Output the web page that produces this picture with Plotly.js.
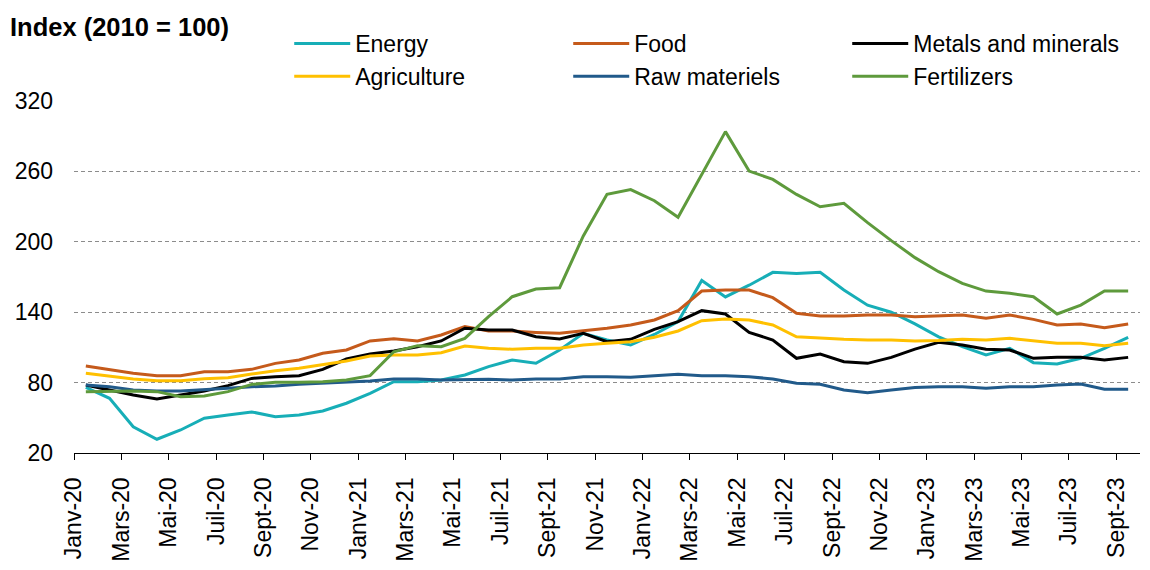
<!DOCTYPE html>
<html>
<head>
<meta charset="utf-8">
<script src="https://cdn.plot.ly/plotly-3.0.1.min.js"></script>
<style>
  html, body { margin: 0; padding: 0; background: #ffffff; }
  #chart { width: 1150px; height: 570px; }
</style>
</head>
<body>
<div id="chart"></div>
<script>
// Months Jan 2020 – Sept 2023 (45 monthly observations)
const months = [
  'Janv-20','Févr-20','Mars-20','Avr-20','Mai-20','Juin-20','Juil-20','Août-20','Sept-20','Oct-20','Nov-20','Déc-20',
  'Janv-21','Févr-21','Mars-21','Avr-21','Mai-21','Juin-21','Juil-21','Août-21','Sept-21','Oct-21','Nov-21','Déc-21',
  'Janv-22','Févr-22','Mars-22','Avr-22','Mai-22','Juin-22','Juil-22','Août-22','Sept-22','Oct-22','Nov-22','Déc-22',
  'Janv-23','Févr-23','Mars-23','Avr-23','Mai-23','Juin-23','Juil-23','Août-23','Sept-23'
];

// Tick labels (every second month)
const tickLabels = [
  'Janv-20','Mars-20','Mai-20','Juil-20','Sept-20','Nov-20',
  'Janv-21','Mars-21','Mai-21','Juil-21','Sept-21','Nov-21',
  'Janv-22','Mars-22','Mai-22','Juil-22','Sept-22','Nov-22',
  'Janv-23','Mars-23','Mai-23','Juil-23','Sept-23'
];

const yTicks = [20, 80, 140, 200, 260, 320];

const energy = [76, 66.6, 42.4, 31.7, 39.6, 49.6, 52.4, 55, 51, 52.4, 55.8, 62.4,
  70.9, 80.8, 80.8, 82.2, 86.5, 93.6, 99.3, 96.5, 107.8, 122, 116.3, 112,
  121, 132, 167, 153, 163, 174, 173, 174, 159, 146, 140, 130,
  119, 110.6, 103.5, 109.2, 97, 95.9, 100.7, 109.2, 118.6];

const food = [94.1, 91.3, 87.9, 85.9, 85.9, 89.3, 89.3, 91.3, 96.4, 99.3, 105, 107.8,
  115.5, 117.4, 115.5, 120.6, 127.7, 124, 124, 122.8, 122, 124.2, 126.3, 129.1,
  133.4, 141.3, 158, 158.9, 158.9, 152.4, 139.1, 136.8, 136.8, 137.6, 137.6, 136.2,
  136.8, 137.6, 134.8, 137.6, 133.9, 129.1, 129.9, 126.8, 129.9];

const metals = [78, 73.7, 69.4, 66, 69.4, 72.8, 77.4, 83.6, 85, 85.9, 91.3, 100.1,
  104.4, 106.9, 110.6, 115.5, 126.3, 124.8, 124.8, 119.1, 117.2, 122, 114.9, 116.9,
  125.4, 131.9, 141.3, 138.5, 122.8, 116.3, 100.7, 104.4, 97.8, 96.4, 101.5, 108.5,
  114.3, 112, 108.4, 107.8, 100.7, 101.5, 101.5, 99.3, 101.5];

const agriculture = [87.9, 85.6, 83.1, 81.6, 81.6, 83.3, 84.2, 87.3, 90.1, 92.2, 95, 98.4,
  102.7, 103.5, 103.5, 105.5, 111.2, 109.2, 108.4, 109.2, 109.2, 112, 113.5, 114.9,
  118.6, 124, 132.8, 134.2, 133.4, 129.1, 119.1, 117.7, 116.9, 116.3, 116.3, 115.5,
  115.8, 116.9, 116.3, 117.7, 115.5, 113.5, 113.5, 111.5, 113.5];

const rawMaterials = [78, 76.5, 73.7, 72.8, 72.8, 73.7, 75.1, 76.5, 77.1, 78.5, 79.4, 79.9,
  81.4, 83.1, 83.1, 82.2, 82.8, 82.8, 82.2, 83.1, 83.1, 85, 85, 84.5,
  85.9, 87.1, 85.9, 85.9, 85, 83.1, 79.4, 78.5, 73.7, 71.4, 73.7, 75.8,
  76.5, 76.5, 75.1, 76.5, 76.5, 78, 78.8, 74.3, 74.3];

const fertilizers = [72.3, 72.8, 72.8, 72.3, 68, 68.6, 72.3, 78.5, 80.3, 80.3, 80.8, 82.2,
  85.9, 106.3, 111.5, 110.6, 117.7, 136.2, 153.2, 159.8, 160.9, 205, 240.5, 244.5,
  235, 220.9, 257.5, 293.9, 260.3, 253.2, 240.4, 229.9, 232.8, 216.3, 201, 186.5,
  174.5, 164.6, 158, 156.1, 153.2, 138.5, 146.1, 158, 158];

const xIdx = months.map((_, i) => i);
const tickVals = tickLabels.map((_, k) => 2 * k - 0.5);

const FONT = '"Liberation Sans", Arial, Helvetica, sans-serif';

function series(name, y, color) {
  return {
    type: 'scatter', mode: 'lines', name: name,
    x: xIdx, y: y, text: months,
    hovertemplate: '%{text}: %{y}<extra>' + name + '</extra>',
    line: { color: color, width: 3 }
  };
}

const data = [
  series('Energy', energy, '#17AEB7'),
  series('Food', food, '#C55A1B'),
  series('Metals and minerals', metals, '#000000'),
  series('Agriculture', agriculture, '#FFC000'),
  series('Raw materiels', rawMaterials, '#215A8A'),
  series('Fertilizers', fertilizers, '#5E9A3C')
];

const layout = {
  width: 1150, height: 570,
  paper_bgcolor: '#ffffff', plot_bgcolor: '#ffffff',
  font: { family: FONT, size: 23, color: '#000000' },
  margin: { l: 74, r: 10, t: 101, b: 117 },
  title: {
    text: 'Index (2010 = 100)',
    font: { family: FONT, size: 25.5, weight: 'bold', color: '#000000' },
    xref: 'container', yref: 'container',
    x: 10 / 1150, xanchor: 'left',
    y: 1 - 27 / 570, yanchor: 'middle'
  },
  showlegend: true,
  legend: {
    orientation: 'h',
    xref: 'container', yref: 'container',
    x: 0.2515, xanchor: 'left',
    y: 1 - 22 / 570, yanchor: 'top',
    entrywidth: 208, entrywidthmode: 'pixels',
    itemwidth: 56,
    font: { family: FONT, size: 23, color: '#000000' },
    bgcolor: 'rgba(0,0,0,0)',
    traceorder: 'normal'
  },
  xaxis: {
    range: [-0.5, 44.5],
    tickmode: 'array', tickvals: tickVals, ticktext: tickLabels,
    tickangle: -90,
    ticks: 'outside', ticklen: 6, tickwidth: 1, tickcolor: '#000000',
    showline: true, linecolor: '#000000', linewidth: 1.3,
    showgrid: false, zeroline: false,
    ticklabelstandoff: 8,
    tickfont: { family: FONT, size: 23, color: '#000000' },
    fixedrange: true
  },
  yaxis: {
    range: [20, 320],
    tickmode: 'array', tickvals: yTicks,
    ticks: '', showline: false, zeroline: false,
    showgrid: true, gridcolor: '#8c8c8c', gridwidth: 1, griddash: '4px,3px',
    ticklabelstandoff: 20,
    tickfont: { family: FONT, size: 23, color: '#000000' },
    fixedrange: true
  }
};

Plotly.newPlot('chart', data, layout, { displayModeBar: false, responsive: false });
</script>
</body>
</html>
